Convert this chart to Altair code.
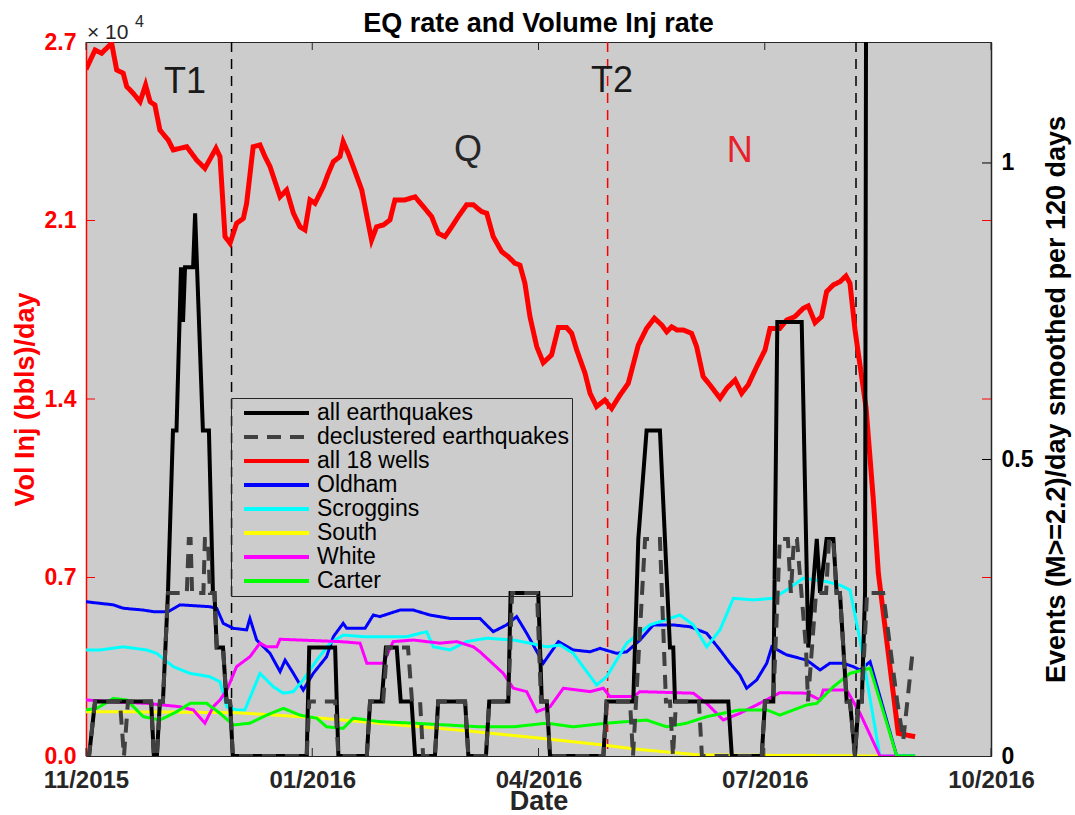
import altair as alt
import pandas as pd

FONT = "Liberation Sans"

# ---------------- axes (x = days since 1 Nov 2015) ----------------
x_tick_days = [0, 90, 180, 270, 360]
x_tick_labels = ["11/2015", "01/2016", "04/2016", "07/2016", "10/2016"]
left_tick_values = [0, 6850, 13700, 20550, 27400]
left_tick_labels = ["0.0", "0.7", "1.4", "2.1", "2.7"]
right_tick_values = [0, 0.5, 1]
x_max = 360
left_max = 27400
right_max = 1.204

chart_title = "EQ rate and Volume Inj rate"

# ---------------- series ----------------
series_names = ["all earthquakes", "declustered earthquakes", "all 18 wells",
                "Oldham", "Scroggins", "South", "White", "Carter"]
series_colors = ["#000000", "#404040", "#ff0000", "#0000ff",
                 "#00ffff", "#ffff00", "#ff00ff", "#00ff00"]
series_dashes = [[1, 0], [14, 9], [1, 0], [1, 0], [1, 0], [1, 0], [1, 0], [1, 0]]
series_widths = [4, 4, 5, 3, 3, 3, 3, 3]

# earthquake rates (events/day, right axis)
eq_all_days = [0, 1.2, 3.6, 25.9, 27.0, 28.2, 29.4, 30.6, 32.6, 34.6,
               36.0, 37.8, 38.6, 39.4, 42.6, 43.4, 46.5, 48.9, 50.5, 51.1,
               52.0, 54.5, 55.9, 57.3, 58.4, 87.8, 88.8, 99.1, 100.4, 111.7,
               113.0, 117.6, 119.3, 123.6, 125.2, 129.5, 130.9, 138.8, 140.1, 150.8,
               152.1, 159.1, 160.4, 168.0, 168.9, 179.9, 181.3, 183.3, 184.6, 205.8,
               207.1, 217.7, 219.7, 223.0, 228.3, 232.3, 233.6, 234.3, 255.5, 256.9,
               268.8, 270.1, 273.4, 275.0, 284.7, 287.3, 290.7, 292.0, 294.6, 297.3,
               298.6, 299.9, 302.6, 303.9, 305.9, 307.3, 308.6, 309.9, 310.6, 330.0]
eq_all_vals = [0, 0, 0.092, 0.092, 0, 0, 0.092, 0.092, 0.275, 0.549,
               0.549, 0.824, 0.732, 0.824, 0.824, 0.915, 0.549, 0.549, 0.275, 0.275,
               0.183, 0.183, 0.092, 0.092, 0, 0, 0.183, 0.183, 0, 0,
               0.092, 0.092, 0.183, 0.183, 0.092, 0.092, 0, 0, 0.092, 0.092,
               0, 0, 0.092, 0.092, 0.275, 0.275, 0.092, 0.092, 0, 0,
               0.092, 0.092, 0.366, 0.549, 0.549, 0.183, 0.183, 0.092, 0.092, 0,
               0, 0.092, 0.092, 0.732, 0.732, 0.183, 0.366, 0.275, 0.366, 0.366,
               0.275, 0.275, 0.092, 0.092, 0, 0.092, 0.092, 0.275, 2.0, 2.0]

eq_decl_days = [0, 1.2, 3.6, 13.5, 15.1, 16.7, 25.9, 27.0, 28.2, 29.4,
                30.6, 32.6, 40.1, 40.9, 41.6, 42.2, 46.7, 47.3, 48.5, 49.3,
                51.1, 52.0, 54.5, 55.9, 57.3, 58.4, 87.8, 88.8, 99.1, 100.4,
                111.7, 113.0, 118.2, 119.8, 128.1, 129.7, 132.9, 134.1, 138.8, 140.1,
                150.8, 152.1, 159.1, 160.4, 168.0, 169.5, 179.4, 181.0, 183.3, 184.6,
                205.8, 207.1, 216.4, 217.6, 218.8, 222.4, 228.3, 230.7, 232.3, 233.5,
                234.7, 243.8, 245.0, 268.8, 270.1, 273.4, 276.0, 279.2, 280.4, 281.6,
                282.8, 286.4, 287.2, 290.4, 294.4, 295.6, 297.2, 298.6, 299.9, 302.6,
                303.9, 305.9, 307.3, 308.6, 310.7, 317.1, 319.9, 322.7, 325.1, 329.0]
eq_decl_vals = [0, 0, 0.092, 0.092, 0, 0.092, 0.092, 0, 0, 0.092,
                0.092, 0.275, 0.275, 0.366, 0.366, 0.275, 0.275, 0.366, 0.366, 0.275,
                0.275, 0.183, 0.183, 0.092, 0.092, 0, 0, 0.092, 0.092, 0,
                0, 0.092, 0.092, 0.183, 0.183, 0.092, 0.092, 0, 0, 0.092,
                0.092, 0, 0, 0.092, 0.092, 0.275, 0.275, 0.092, 0.092, 0,
                0, 0.092, 0.092, 0, 0.092, 0.366, 0.366, 0.092, 0.092, 0,
                0.092, 0.092, 0, 0, 0.092, 0.092, 0.366, 0.366, 0.275, 0.366,
                0.366, 0.183, 0.092, 0.275, 0.275, 0.366, 0.366, 0.275, 0.275, 0.092,
                0.092, 0, 0.092, 0.092, 0.275, 0.275, 0.183, 0.092, 0.027, 0.183]

# injection rates (bbls/day, left axis)
all_wells_days = [0, 3.6, 6.2, 10.2, 12.2, 14.8, 16.2, 18.8, 21.5, 23.7,
                  25.5, 27.4, 29.4, 32.7, 34.7, 40.1, 44.0, 47.3, 51.7, 53.3,
                  55.3, 57.3, 59.9, 62.6, 63.9, 66.5, 69.2, 71.2, 73.2, 77.2,
                  79.8, 82.5, 85.1, 87.1, 89.1, 91.1, 94.4, 96.4, 98.4, 101.0,
                  102.3, 104.3, 106.3, 109.7, 111.0, 113.6, 115.6, 118.3, 120.9, 122.9,
                  126.9, 130.9, 134.2, 137.5, 140.1, 142.8, 145.5, 148.1, 151.4, 154.1,
                  157.4, 159.4, 162.0, 165.4, 168.0, 170.6, 172.6, 174.6, 176.6, 179.3,
                  181.9, 185.2, 187.9, 191.2, 193.2, 195.2, 198.5, 200.5, 203.1, 206.4,
                  209.1, 212.4, 215.7, 219.7, 223.0, 226.1, 229.0, 231.0, 233.0, 235.0,
                  237.6, 240.9, 242.9, 245.5, 248.2, 252.2, 254.9, 258.2, 260.8, 263.4,
                  266.8, 270.1, 272.1, 276.0, 278.7, 282.0, 285.3, 287.3, 290.0, 292.6,
                  294.6, 297.3, 299.9, 302.3, 303.9, 305.9, 310.3, 313.2, 315.2, 323.1,
                  329.8]
all_wells_vals = [26350, 27090, 26970, 27350, 26330, 26200, 25690, 25430, 25110, 25750,
                  25110, 24980, 24020, 23640, 23260, 23380, 22870, 22550, 23320, 23000,
                  19930, 19680, 20440, 20630, 21210, 23380, 23450, 23000, 22620, 21460,
                  21720, 20830, 20310, 20190, 21340, 21210, 21850, 22360, 22810, 23000,
                  23570, 23130, 22620, 21720, 21080, 19800, 20310, 20380, 20570, 21340,
                  21340, 21460, 21080, 20700, 20060, 19930, 20310, 20700, 21150, 21150,
                  20890, 20830, 19930, 19350, 19160, 18910, 18840, 18140, 16860, 15710,
                  15090, 15390, 16440, 16440, 16220, 15580, 14690, 13920, 13410, 13660,
                  13340, 13850, 14300, 15770, 16410, 16800, 16540, 16280, 16470, 16350,
                  16350, 16220, 15710, 14560, 14240, 13730, 14110, 14430, 13920, 14240,
                  14940, 15580, 16410, 16410, 16730, 16860, 17180, 17270, 16630, 16860,
                  17820, 18080, 18200, 18420, 18140, 16350, 13360, 9820, 7010, 870,
                  740]

oldham_days = [0, 10.9, 14.8, 22.8, 26.8, 32.7, 37.4, 49.3, 52.0, 54.6,
               58.6, 63.9, 65.2, 67.9, 73.2, 77.2, 79.2, 82.5, 86.4, 90.4,
               95.7, 98.4, 102.3, 103.7, 111.0, 114.3, 116.9, 124.9, 130.2, 136.8,
               144.8, 151.4, 156.7, 162.0, 167.3, 171.3, 175.3, 181.9, 187.9, 193.8,
               200.5, 204.5, 211.1, 215.1, 220.4, 225.7, 233.6, 240.3, 246.9, 252.2,
               256.2, 260.1, 262.8, 266.8, 270.8, 272.8, 278.7, 286.7, 292.0, 295.9,
               301.2, 305.2, 307.9, 311.9, 322.5, 329.8]
oldham_vals = [5920, 5800, 5670, 5600, 5540, 5540, 5800, 5730, 5670, 5090,
               4900, 4840, 5280, 4450, 3940, 3240, 3680, 3170, 2530, 3170,
               3810, 4580, 5090, 4900, 4900, 5410, 5350, 5600, 5600, 5410,
               5280, 5280, 5280, 4770, 5030, 5350, 4710, 3560, 4390, 4070,
               4000, 4130, 3940, 4000, 4450, 5030, 5030, 4960, 4710, 4070,
               3560, 3110, 2600, 2920, 3560, 4190, 3880, 3680, 3300, 3560,
               3560, 3430, 3300, 3620, 0, 0]

scroggins_days = [0, 5.6, 14.8, 24.1, 28.1, 34.7, 41.4, 45.3, 49.3, 53.3,
                  56.0, 59.9, 63.2, 69.2, 74.5, 78.5, 82.5, 86.4, 91.8, 97.1,
                  102.3, 110.3, 119.6, 127.6, 135.5, 138.2, 144.8, 151.4, 159.4, 170.0,
                  176.6, 183.3, 188.6, 193.8, 203.1, 207.1, 215.1, 224.3, 236.3, 241.6,
                  246.9, 252.2, 257.5, 265.4, 273.4, 278.7, 285.3, 294.6, 299.9, 303.9,
                  307.9, 315.8, 329.8]
scroggins_vals = [4070, 4070, 4190, 4070, 3940, 3430, 3170, 3110, 3040, 2850,
                  1890, 1770, 1770, 3170, 2660, 2410, 2470, 2920, 3680, 4330,
                  4640, 4580, 4580, 4580, 4770, 4190, 4070, 4390, 4520, 4450,
                  4330, 4190, 4260, 3940, 2730, 3040, 4330, 5030, 5410, 5030,
                  4190, 4840, 6050, 5990, 6050, 6370, 6820, 6690, 6560, 6370,
                  4450, 0, 0]

south_days = [0, 30, 60, 90, 120, 150, 180, 205, 220, 244, 316]
south_vals = [1700, 1690, 1660, 1480, 1230, 980, 690, 430, 250, 40, 0]

white_days = [0, 10.9, 24.1, 37.4, 42.7, 47.3, 50.6, 53.3, 56.0, 59.9,
              65.2, 69.2, 71.9, 75.9, 77.2, 90.4, 101.0, 109.0, 111.7, 118.3,
              122.2, 130.2, 140.8, 147.5, 154.1, 156.7, 166.0, 170.0, 175.3, 179.3,
              184.6, 189.9, 200.5, 205.8, 208.4, 217.7, 220.4, 241.6, 246.9, 253.5,
              260.1, 266.8, 276.0, 286.7, 292.0, 293.3, 302.6, 307.9, 315.8, 322.5]
white_vals = [2150, 2080, 2020, 1890, 1770, 1260, 1890, 2150, 2530, 3430,
              3810, 4330, 4190, 4190, 4480, 4430, 4390, 4330, 3560, 3560,
              4390, 4450, 4330, 4390, 4190, 4000, 3170, 2600, 2470, 1700,
              1890, 2600, 2470, 2600, 2280, 2280, 2470, 2410, 2020, 1380,
              1640, 1960, 2430, 2410, 2150, 2530, 2530, 1640, 0, 0]

carter_days = [0, 4.3, 10.9, 16.2, 22.8, 29.4, 36.1, 41.4, 48.0, 53.3,
               58.6, 65.2, 71.9, 78.5, 85.1, 91.8, 95.7, 102.3, 106.3, 116.9,
               130.2, 143.5, 156.7, 170.0, 183.3, 193.8, 207.1, 223.0, 231.0, 238.9,
               246.9, 253.5, 260.1, 270.8, 276.0, 286.7, 290.7, 297.3, 303.9, 311.9,
               322.5, 329.8]
carter_vals = [1770, 1830, 2210, 2150, 1510, 1380, 1700, 2020, 2020, 1640,
               1190, 1260, 1570, 1830, 1570, 1450, 1120, 1060, 1450, 1320,
               1260, 1190, 1120, 1120, 1260, 1120, 1260, 1380, 1120, 1260,
               1510, 1640, 1770, 1770, 1570, 1960, 2020, 2660, 3170, 3370,
               0, 0]

# period boundaries and period labels
boundary_days = [57.9, 207.5, 306.3]
boundary_colors = ["#000000", "#ff0000", "#000000"]
annot_labels = ["T1", "Q", "T2", "N"]
annot_days = [39.4, 152.0, 209.2, 260.1]
annot_vals = [25440, 22830, 25490, 22810]
annot_colors = ["#1a1a1a", "#262626", "#1a1a1a", "#e8202a"]

PLOT_W, PLOT_H = 905, 714

# ---------------- encodings ----------------
x_step = x_tick_days[1] - x_tick_days[0]
x_label_expr = "[" + ",".join("'%s'" % s for s in x_tick_labels) + "][round(datum.value / %d)]" % x_step
l_step = left_tick_values[1] - left_tick_values[0]
l_label_expr = "[" + ",".join("'%s'" % s for s in left_tick_labels) + "][round(datum.value / %d)]" % l_step

x_axis = alt.Axis(values=x_tick_days, labelExpr=x_label_expr, title="Date", grid=False, ticks=False,
                  domainColor="#262626", labelColor="#262626", labelFont=FONT, labelFontSize=24,
                  labelFontWeight="bold", labelPadding=12, labelFlush=False, labelOverlap=False,
                  titleColor="#262626", titleFont=FONT, titleFontSize=27, titleFontWeight="bold",
                  titleX=PLOT_W / 2, titleY=53, titleBaseline="alphabetic", titleAlign="center")
left_axis = alt.Axis(values=left_tick_values, labelExpr=l_label_expr, title="Vol Inj (bbls)/day",
                     orient="left", grid=False, ticks=False, domainColor="#ff0000", domainWidth=1.5,
                     labelColor="#ff0000", labelFont=FONT, labelFontSize=23, labelFontWeight="bold",
                     labelPadding=10, labelFlush=False, labelOverlap=False,
                     titleColor="#ff0000", titleFont=FONT, titleFontSize=27, titleFontWeight="bold",
                     titleAngle=270, titleX=-53, titleY=PLOT_H / 2, titleAlign="center",
                     titleBaseline="alphabetic")
right_axis = alt.Axis(values=right_tick_values, format="~g",
                      title="Events (M>=2.2)/day smoothed per 120 days",
                      orient="right", grid=False, ticks=False, domainColor="#262626", domainWidth=1.5,
                      labelColor="#000000", labelFont=FONT, labelFontSize=23, labelFontWeight="bold",
                      labelPadding=10, labelFlush=False, labelOverlap=False,
                      titleColor="#000000", titleFont=FONT, titleFontSize=27, titleFontWeight="bold",
                      titleAngle=270, titleX=73, titleY=PLOT_H / 2, titleAlign="center",
                      titleBaseline="alphabetic")

X = alt.X("day:Q", scale=alt.Scale(domain=[0, x_max], nice=False, zero=False), axis=x_axis)
YL = alt.Y("value:Q", scale=alt.Scale(domain=[0, left_max], nice=False), axis=left_axis)
YR = alt.Y("value:Q", scale=alt.Scale(domain=[0, right_max], nice=False), axis=right_axis)

legend = alt.Legend(title=None, orient="none", legendX=145, legendY=356, direction="vertical",
                    symbolType="stroke", symbolSize=4225, symbolStrokeWidth=4, symbolOffset=8,
                    labelFont=FONT, labelFontSize=23, labelColor="#000000", labelOffset=6,
                    labelLimit=500, padding=3, rowPadding=0,
                    strokeColor="#262626", clipHeight=24)
COLOR = alt.Color("series:N", scale=alt.Scale(domain=series_names, range=series_colors), legend=legend)
DASH = alt.StrokeDash("series:N", scale=alt.Scale(domain=series_names, range=series_dashes), legend=legend)


def series_line(name, days, vals, y):
    i = series_names.index(name)
    df = pd.DataFrame({"day": days, "value": vals, "series": name})
    return alt.Chart(df).mark_line(strokeWidth=series_widths[i], clip=True).encode(
        x=X, y=y, color=COLOR, strokeDash=DASH)


# ---------------- left (injection) group ----------------
left_layers = []
for d, c in zip(boundary_days, boundary_colors):
    left_layers.append(
        alt.Chart(pd.DataFrame({"day": [d]})).mark_rule(color=c, strokeWidth=1.5, strokeDash=[10, 7])
        .encode(x=X))
left_layers.append(series_line("all 18 wells", all_wells_days, all_wells_vals, YL))
left_layers.append(series_line("Oldham", oldham_days, oldham_vals, YL))
left_layers.append(series_line("Scroggins", scroggins_days, scroggins_vals, YL))
left_layers.append(series_line("South", south_days, south_vals, YL))
left_layers.append(series_line("White", white_days, white_vals, YL))
left_layers.append(series_line("Carter", carter_days, carter_vals, YL))
for t, d, v, c in zip(annot_labels, annot_days, annot_vals, annot_colors):
    left_layers.append(
        alt.Chart(pd.DataFrame({"day": [d], "value": [v], "label": [t]}))
        .mark_text(font=FONT, fontSize=36, align="center", baseline="alphabetic", color=c)
        .encode(x=X, y=YL, text="label:N"))

xt = pd.DataFrame({"day": x_tick_days})
left_layers.append(alt.Chart(xt).mark_rule(color="#262626", strokeWidth=1)
                   .encode(x=X, y=alt.value(PLOT_H), y2=alt.value(PLOT_H - 8)))
left_layers.append(alt.Chart(xt).mark_rule(color="#262626", strokeWidth=1)
                   .encode(x=X, y=alt.value(0), y2=alt.value(8)))
lt = pd.DataFrame({"value": left_tick_values[1:-1]})
left_layers.append(alt.Chart(lt).mark_rule(color="#ff0000", strokeWidth=1)
                   .encode(y=YL, x=alt.value(0), x2=alt.value(9)))
left_layers.append(alt.Chart(lt).mark_rule(color="#ff0000", strokeWidth=1)
                   .encode(y=YL, x=alt.value(PLOT_W), x2=alt.value(PLOT_W - 9)))

# exponent marker above the left axis and the chart title
left_layers.append(alt.Chart(alt.Data(values=[{"t": "\u00d7 10"}]))
                   .mark_text(font=FONT, fontSize=21, align="left", baseline="alphabetic", color="#262626")
                   .encode(x=alt.value(1), y=alt.value(-3), text="t:N"))
left_layers.append(alt.Chart(alt.Data(values=[{"t": "4"}]))
                   .mark_text(font=FONT, fontSize=16, align="left", baseline="alphabetic", color="#262626")
                   .encode(x=alt.value(49), y=alt.value(-15), text="t:N"))
left_layers.append(alt.Chart(alt.Data(values=[{"t": chart_title}]))
                   .mark_text(font=FONT, fontSize=27, fontWeight="bold", align="center",
                              baseline="alphabetic", color="#000000")
                   .encode(x=alt.value(PLOT_W / 2), y=alt.value(-10), text="t:N"))

left_group = alt.layer(*left_layers)

# ---------------- right (earthquake) group ----------------
rt = pd.DataFrame({"value": right_tick_values[1:]})
right_group = alt.layer(
    series_line("all earthquakes", eq_all_days, eq_all_vals, YR),
    series_line("declustered earthquakes", eq_decl_days, eq_decl_vals, YR),
    alt.Chart(rt).mark_rule(color="#000000", strokeWidth=1)
    .encode(y=YR, x=alt.value(PLOT_W), x2=alt.value(PLOT_W - 9)),
)

chart = (
    alt.layer(left_group, right_group)
    .resolve_scale(y="independent")
    .properties(
        width=PLOT_W, height=PLOT_H,
        autosize=alt.AutoSizeParams(type="none"),
        padding={"left": 86, "top": 42, "right": 84, "bottom": 59},
    )
    .configure(background="white")
    .configure_view(fill="#cccccc", stroke="#262626", strokeWidth=1)
)

chart.save("out.html", embed_options={"renderer": "svg", "actions": False})
